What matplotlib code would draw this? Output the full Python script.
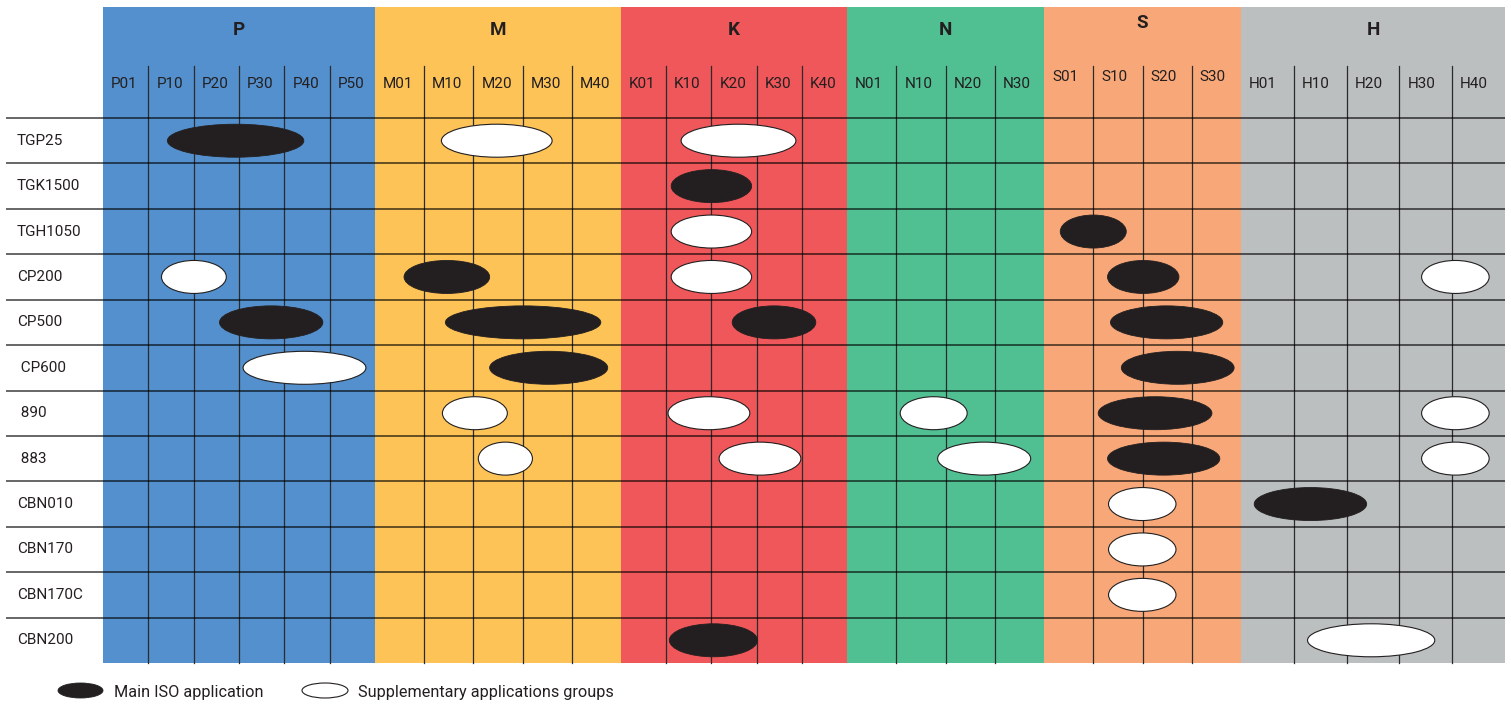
import numpy as np
import matplotlib
matplotlib.use('Agg')
import matplotlib.pyplot as plt
from matplotlib.patches import Ellipse, Rectangle
plt.rcParams["font.family"] = ["Roboto", "DejaVu Sans"]

# ISO groups and their sub-columns
groups = ["P", "M", "K", "N", "S", "H"]
group_cols = [
    ["P01", "P10", "P20", "P30", "P40", "P50"],
    ["M01", "M10", "M20", "M30", "M40"],
    ["K01", "K10", "K20", "K30", "K40"],
    ["N01", "N10", "N20", "N30"],
    ["S01", "S10", "S20", "S30"],
    ["H01", "H10", "H20", "H30", "H40"],
]
group_colors = ["#5390CD", "#FDC357", "#F0575A", "#50C093", "#F8A878", "#BCBFC0"]

grades = ["TGP25", "TGK1500", "TGH1050", "CP200", "CP500", " CP600",
          " 890", " 883", "CBN010", "CBN170", "CBN170C", "CBN200"]

# (row, start, end) in fractional column index (0 = left edge of P01, 29 = right edge of H40)
main_apps = [
    (0, 1.42, 4.43),
    (1, 12.11, 13.89),
    (2, 20.33, 21.67),
    (3, 6.59, 8.33), (3, 21.29, 22.74),
    (4, 2.57, 4.85), (4, 7.43, 10.59), (4, 13.46, 15.31), (4, 21.35, 23.63),
    (5, 8.33, 10.73), (5, 21.57, 23.86),
    (6, 21.10, 23.41),
    (7, 21.29, 23.57),
    (8, 24.25, 26.38),
    (11, 12.07, 14.02),
]
supp_apps = [
    (0, 7.35, 9.60), (0, 12.33, 14.87),
    (2, 12.11, 13.89),
    (3, 1.29, 2.72), (3, 12.11, 13.89), (3, 27.42, 28.70),
    (5, 3.09, 5.80),
    (6, 7.37, 8.69), (6, 12.04, 13.85), (6, 17.08, 18.44), (6, 27.42, 28.70),
    (7, 8.10, 9.20), (7, 13.17, 14.98), (7, 17.84, 19.73), (7, 27.42, 28.70),
    (8, 21.31, 22.68),
    (9, 21.31, 22.68),
    (10, 21.31, 22.68),
    (11, 25.26, 27.67),
]

# layout in pixels
W, H = 1511, 704
group_edges = [103, 375, 621, 847, 1044, 1241, 1505]
top, head_line, grid_top, bottom = 7, 66, 118, 663
row_h = (bottom - grid_top) / len(grades)
ell_h = 33

col_edges = [group_edges[0]]
for g in range(len(groups)):
    e = np.linspace(group_edges[g], group_edges[g + 1], len(group_cols[g]) + 1)
    col_edges.extend(e[1:])
col_edges = np.array(col_edges)
col_idx = np.arange(len(col_edges))

fig = plt.figure(figsize=(W / 100, H / 100), dpi=100)
ax = fig.add_axes([0, 0, 1, 1])
ax.set_xlim(0, W)
ax.set_ylim(H, 0)
ax.axis("off")

# coloured group backgrounds, labels and inner vertical lines
for g, name in enumerate(groups):
    x0, x1 = group_edges[g], group_edges[g + 1]
    ax.add_patch(Rectangle((x0, top), x1 - x0, bottom - top, facecolor=group_colors[g],
                           edgecolor="none", zorder=0))
    dy = -7 if name == "S" else 0
    ax.text((x0 + x1) / 2, 30 + dy, name, ha="center", va="center",
            fontsize=13.5, fontweight="bold", color="#231F20")
    e = np.linspace(x0, x1, len(group_cols[g]) + 1)
    for c, lab in enumerate(group_cols[g]):
        ax.text(e[c] + 8, 84 + dy, lab, ha="left", va="center", fontsize=11, color="#231F20")
    for xv in e[1:-1]:
        ax.plot([xv, xv], [head_line, bottom], color="#2b2b2b", lw=0.9, zorder=1)

# horizontal row lines
for r in range(len(grades)):
    y = grid_top + r * row_h
    ax.plot([6, group_edges[-1]], [y, y], color="black", alpha=0.6, lw=1.4, zorder=1,
            solid_capstyle="butt")
    ax.text(17, y + row_h / 2, grades[r], ha="left", va="center", fontsize=11, color="#231F20")

def to_px(f):
    return np.interp(f, col_idx, col_edges)

for r, s, e in main_apps:
    x0, x1 = to_px(s), to_px(e)
    ax.add_patch(Ellipse(((x0 + x1) / 2, grid_top + (r + 0.5) * row_h), x1 - x0, ell_h,
                         facecolor="#231F20", edgecolor="#231F20", lw=0.6, zorder=3))
for r, s, e in supp_apps:
    x0, x1 = to_px(s), to_px(e)
    ax.add_patch(Ellipse(((x0 + x1) / 2, grid_top + (r + 0.5) * row_h), x1 - x0, ell_h,
                         facecolor="white", edgecolor="#231F20", lw=0.8, zorder=3))

# legend
ax.add_patch(Ellipse((80.5, 690.5), 45, 15, facecolor="#231F20", edgecolor="#231F20", lw=0.6))
ax.text(114, 692, "Main ISO application", ha="left", va="center", fontsize=11.7, color="#231F20")
ax.add_patch(Ellipse((325, 690.5), 46, 15, facecolor="white", edgecolor="#231F20", lw=0.8))
ax.text(358, 692, "Supplementary applications groups", ha="left", va="center",
        fontsize=11.7, color="#231F20")

plt.savefig("out.png", dpi=100)
plt.close()
